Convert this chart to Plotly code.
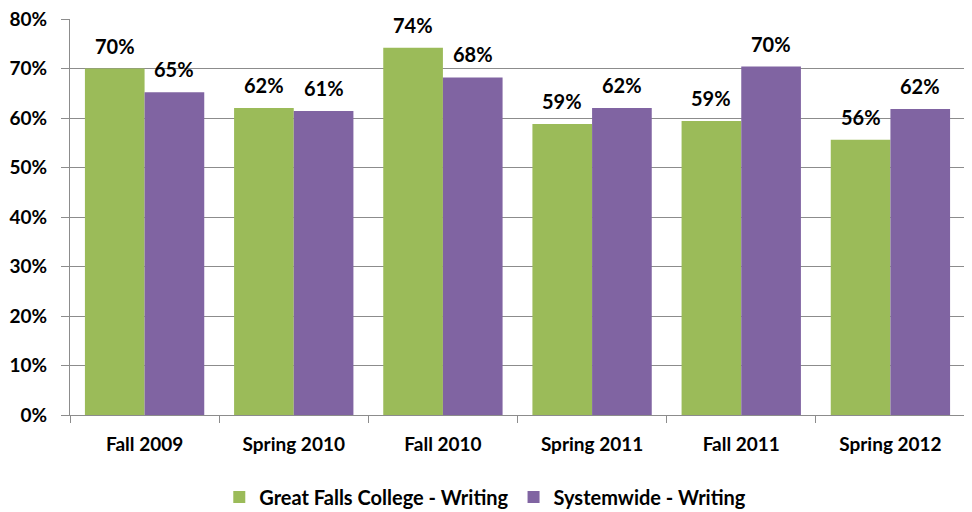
import plotly.graph_objects as go

categories = ["Fall 2009", "Spring 2010", "Fall 2010", "Spring 2011", "Fall 2011", "Spring 2012"]
gfc_writing = [70.0, 62.0, 74.2, 58.8, 59.4, 55.6]
sys_writing = [65.2, 61.4, 68.2, 62.0, 70.4, 61.8]
series_names = ["Great Falls College - Writing", "Systemwide - Writing"]
y_ticks = [0, 10, 20, 30, 40, 50, 60, 70, 80]
y_tick_labels = [f"{v}%" for v in y_ticks]

GREEN = "#9BBB59"
PURPLE = "#8064A2"
FONT = "Lato"
bargap = 0.2
half = (1 - bargap) / 4  # center offset of each bar inside a category

fig = go.Figure()
fig.add_trace(go.Bar(x=categories, y=gfc_writing, name=series_names[0],
                     marker=dict(color=GREEN, line=dict(width=0))))
fig.add_trace(go.Bar(x=categories, y=sys_writing, name=series_names[1],
                     marker=dict(color=PURPLE, line=dict(width=0))))

annotations = []
for i, (g, s) in enumerate(zip(gfc_writing, sys_writing)):
    for val, off in ((g, -half), (s, half)):
        annotations.append(dict(x=i + off, y=val, xref="x", yref="y",
                                text=f"{round(val)}%", showarrow=False,
                                yanchor="bottom", yshift=9,
                                font=dict(family=FONT, size=20, color="#000000", weight="bold")))

# page body adds an 8px offset, margins compensate
fig.update_layout(
    width=972, height=512,
    margin=dict(l=62, r=15, t=11, b=105),
    paper_bgcolor="white", plot_bgcolor="white",
    barmode="group", bargap=bargap, bargroupgap=0,
    font=dict(family=FONT, size=19, color="#000000", weight="bold"),
    showlegend=True,
    legend=dict(orientation="h", x=0.464, xanchor="center",
                yref="container", y=0.045, yanchor="middle",
                font=dict(family=FONT, size=20, color="#000000", weight="bold"),
                bgcolor="rgba(0,0,0,0)"),
    annotations=annotations,
)
fig.update_yaxes(range=[0, 80], tickvals=y_ticks, ticktext=y_tick_labels,
                 showgrid=True, gridcolor="#8C8C8C", gridwidth=1,
                 showline=True, linecolor="#8C8C8C", linewidth=1,
                 ticks="outside", ticklen=8, tickcolor="#8C8C8C",
                 ticklabelstandoff=10, zeroline=False, automargin=False,
                 ticklabeloverflow="allow",
                 tickfont=dict(family=FONT, size=19, color="#000000", weight="bold"))
fig.update_xaxes(showline=True, linecolor="#8C8C8C", linewidth=1,
                 ticks="outside", tickson="boundaries", ticklen=7, tickcolor="#8C8C8C",
                 ticklabelstandoff=12, automargin=False,
                 tickfont=dict(family=FONT, size=19, color="#000000", weight="bold"))

fig.write_html("out.html")
